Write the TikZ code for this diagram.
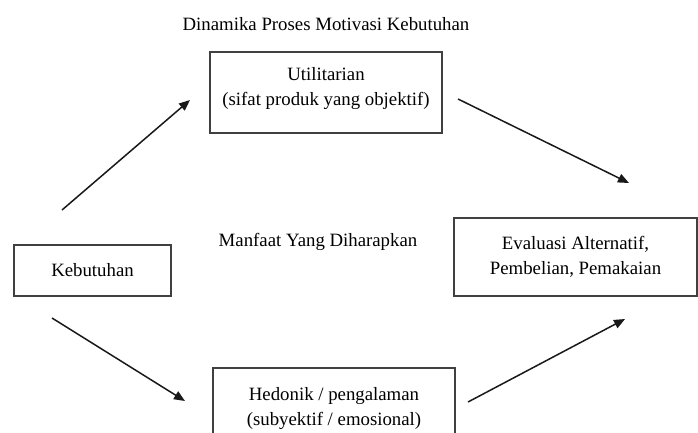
\documentclass[tikz,border=0pt]{standalone}
\usepackage{fontspec}
\setmainfont{Liberation Serif}
\usetikzlibrary{arrows.meta}

\begin{document}
\begin{tikzpicture}[x=1pt,y=-1pt,
  every node/.style={font=\fontsize{18.8}{25}\selectfont},
  box/.style={draw=black!75,line width=1.1pt,align=center,inner sep=0pt},
  arr/.style={-{Triangle[length=11pt,width=9pt]},line width=1.5pt,color=black!90}]
\clip (0,0) rectangle (698,432);
\node[anchor=base] (judul) at (326,30) {Dinamika Proses Motivasi Kebutuhan};
\node[box,minimum width=157pt,minimum height=51pt] (kebutuhan) at (92.5,270.5) {Kebutuhan};
\node[box,minimum width=232pt,minimum height=81pt] (util) at (326,92.5)
{Utilitarian\\(sifat produk yang objektif)\\[-12pt]};
\node[box,minimum width=243pt,minimum height=78pt] (eval) at (575.5,257)
{Evaluasi Alternatif,\\Pembelian, Pemakaian};
\node[box,minimum width=242pt,minimum height=81pt] (hedonik) at (334,408.5)
{Hedonik / pengalaman\\(subyektif / emosional)};
\node[anchor=base] (manfaat) at (318,246) {Manfaat Yang Diharapkan};
% free ends of the arrows
\coordinate (k1) at (62,210);
\coordinate (u1) at (190,100);
\coordinate (u2) at (458,99);
\coordinate (e1) at (629,183);
\coordinate (k2) at (52,318);
\coordinate (h1) at (185,401);
\coordinate (h2) at (468,402);
\coordinate (e2) at (625,319);
\draw[arr] (k1) -- (u1);
\draw[arr] (u2) -- (e1);
\draw[arr] (k2) -- (h1);
\draw[arr] (h2) -- (e2);
\end{tikzpicture}
\end{document}
